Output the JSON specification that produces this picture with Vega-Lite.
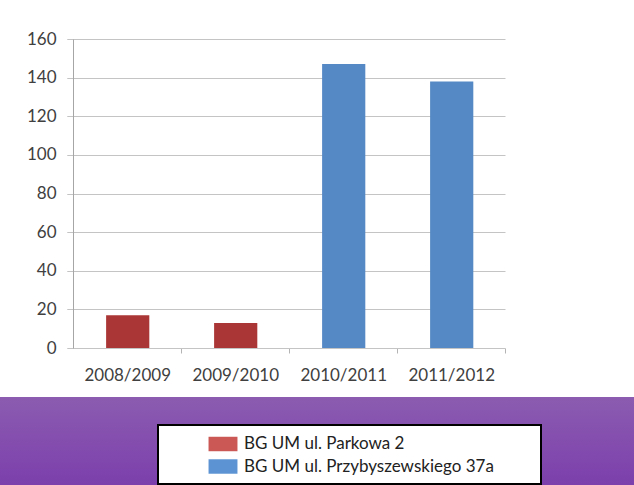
{
  "$schema": "https://vega.github.io/schema/vega-lite/v6.json",
  "padding": {"left": 0, "top": 30, "right": 0, "bottom": 0},
  "background": "#ffffff",
  "config": {"font": "Lato", "view": {"stroke": null}},
  "data": {
    "values": [
      {"season": "2008/2009", "location": "BG UM ul. Parkowa 2", "count": 17},
      {"season": "2009/2010", "location": "BG UM ul. Parkowa 2", "count": 13},
      {"season": "2010/2011", "location": "BG UM ul. Przybyszewskiego 37a", "count": 147},
      {"season": "2011/2012", "location": "BG UM ul. Przybyszewskiego 37a", "count": 138}
    ]
  },
  "spacing": 14,
  "resolve": {"scale": {"color": "independent"}, "legend": {"color": "independent"}},
  "vconcat": [
    {
      "width": 505,
      "height": 309,
      "encoding": {
        "x": {
          "field": "season", "type": "nominal", "sort": null,
          "scale": {"paddingInner": 0.6, "paddingOuter": 0.638, "align": 0.77},
          "axis": {"title": null, "labelAngle": 0, "labelFontSize": 17, "labelColor": "#404040", "labelPadding": 14, "tickSize": 5, "tickColor": "#b4b4b4", "domain": false, "bandPosition": 1.75, "grid": false}
        }
      },
      "layer": [
        {
          "mark": {"type": "bar", "opacity": 0},
          "encoding": {
            "y": {
              "field": "count", "type": "quantitative",
              "scale": {"domain": [0, 160]},
              "axis": {"orient": "right", "title": null, "values": [0, 20, 40, 60, 80, 100, 120, 140, 160], "labels": false, "domain": false, "grid": false, "tickSize": -438, "tickColor": "#c4c4c4", "minExtent": 0}
            }
          }
        },
        {
          "mark": {"type": "bar"},
          "encoding": {
            "y": {
              "field": "count", "type": "quantitative",
              "scale": {"domain": [0, 160]},
              "axis": {"orient": "left", "offset": -73, "title": null, "values": [0, 20, 40, 60, 80, 100, 120, 140, 160], "labelFontSize": 17, "labelColor": "#404040", "labelPadding": 11, "tickSize": 6, "tickColor": "#c4c4c4", "grid": false, "domainColor": "#a6a6a6", "minExtent": 0}
            },
            "color": {"field": "location", "type": "nominal", "scale": {"range": ["#ab3636", "#5589c5"]}, "legend": null}
          }
        }
      ],
      "resolve": {"axis": {"y": "independent"}}
    },
    {
      "width": 634,
      "height": 88,
      "view": {"fill": "#8452ae", "stroke": null},
      "layer": [
        {
          "data": {"values": [{"band": "background"}]},
          "mark": {
            "type": "rect",
            "color": {"gradient": "linear", "x1": 0, "y1": 0, "x2": 0, "y2": 1, "stops": [{"offset": 0, "color": "#8b5cb0"}, {"offset": 1, "color": "#7c3fac"}]}
          },
          "encoding": {}
        },
        {
          "transform": [{"filter": "false"}],
          "mark": "rect",
          "encoding": {
            "color": {
              "field": "location", "type": "nominal",
              "scale": {"domain": ["BG UM ul. Parkowa 2", "BG UM ul. Przybyszewskiego 37a"], "range": ["#cc5856", "#5b93d3"]},
              "legend": {"orient": "none", "legendX": 158, "legendY": 28, "title": " ", "titleOrient": "right", "titlePadding": 38, "titleFontSize": 17, "direction": "vertical", "fillColor": "#ffffff", "strokeColor": "#000000", "padding": 9, "symbolType": "M-1.5,-0.75H1.5V0.75H-1.5Z", "symbolSize": 372, "symbolStrokeWidth": 0, "symbolOffset": 46, "labelFont": "Lato", "labelFontSize": 17, "labelColor": "#222222", "labelOffset": 11, "labelLimit": 400, "rowPadding": 4.5,
                "encode": {"legend": {"update": {"strokeWidth": {"value": 2}}}}}
            }
          }
        }
      ]
    }
  ]
}
